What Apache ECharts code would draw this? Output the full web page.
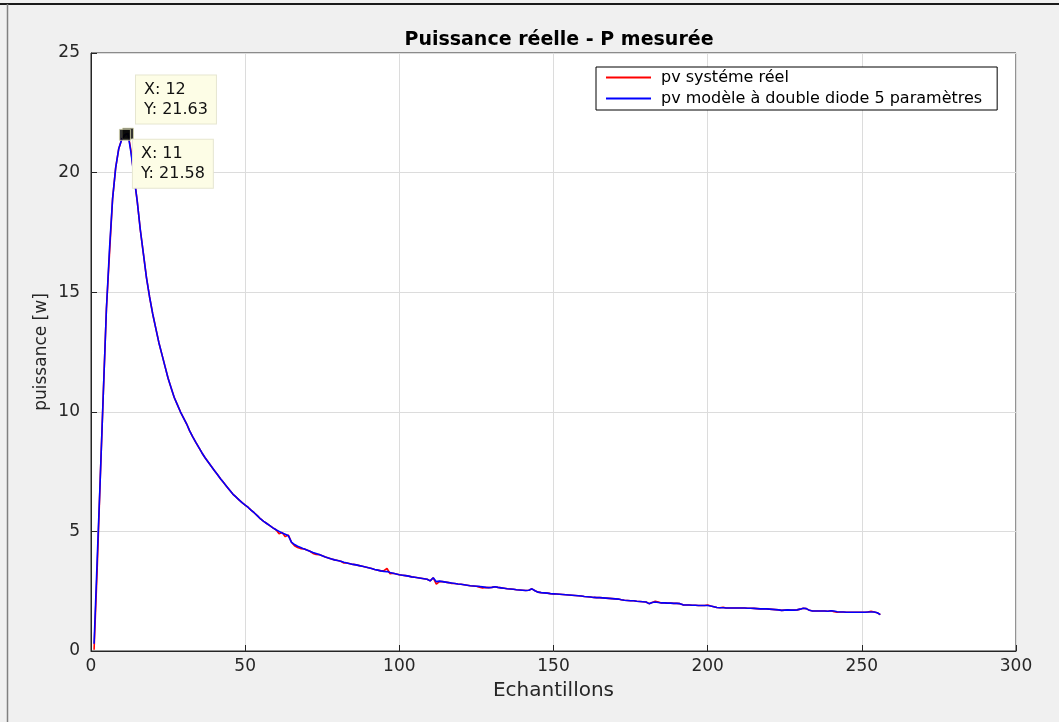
<!DOCTYPE html>
<html>
<head>
<meta charset="utf-8">
<script src="https://cdn.jsdelivr.net/npm/echarts@6/dist/echarts.min.js"></script>
<style>
  html, body { margin: 0; padding: 0; background: #f0f0f0; }
  #chart { width: 1059px; height: 722px; }
</style>
</head>
<body>
<div id="chart"></div>
<script>
// Measured power of the PV system vs. the 5-parameter double-diode model, per sample
const modelPower = [
  0.3, 3.8, 7.2, 10.8, 14.3, 16.8, 18.9, 20.2, 21.0, 21.4,
  21.58, 21.63, 20.8, 19.8, 18.8, 17.6, 16.6, 15.6, 14.8, 14.1,
  13.5, 12.9, 12.4, 11.9, 11.4, 11.0, 10.6, 10.3, 10.0, 9.75,
  9.5, 9.2, 8.95, 8.72, 8.5, 8.28, 8.08, 7.9, 7.72, 7.55,
  7.38, 7.2, 7.04, 6.88, 6.72, 6.56, 6.44, 6.32, 6.2, 6.1,
  6.0, 5.88, 5.77, 5.65, 5.52, 5.42, 5.33, 5.24, 5.15, 5.07,
  5.0, 4.93, 4.88, 4.82, 4.55, 4.45, 4.38, 4.33, 4.27, 4.22,
  4.17, 4.12, 4.08, 4.03, 3.98, 3.93, 3.89, 3.85, 3.81, 3.78,
  3.75, 3.71, 3.68, 3.65, 3.62, 3.6, 3.57, 3.54, 3.51, 3.48,
  3.45, 3.41, 3.38, 3.35, 3.33, 3.32, 3.28, 3.25, 3.22, 3.19,
  3.17, 3.15, 3.13, 3.1, 3.08, 3.06, 3.04, 3.02, 3.0, 2.93,
  3.06, 2.9, 2.92, 2.9, 2.88, 2.86, 2.84, 2.82, 2.8, 2.79,
  2.77, 2.75, 2.73, 2.72, 2.71, 2.7, 2.68, 2.66, 2.65, 2.66,
  2.69, 2.66, 2.64, 2.62, 2.6, 2.59, 2.58, 2.56, 2.55, 2.54,
  2.53, 2.54, 2.6, 2.52, 2.46, 2.44, 2.43, 2.42, 2.4, 2.39,
  2.38, 2.37, 2.36, 2.35, 2.34, 2.33, 2.32, 2.31, 2.3, 2.28,
  2.27, 2.26, 2.24, 2.23, 2.23, 2.22, 2.21, 2.2, 2.19, 2.18,
  2.17, 2.14, 2.12, 2.11, 2.1, 2.1, 2.08, 2.07, 2.06, 2.05,
  1.98, 2.03, 2.05, 2.03, 2.01, 2.01, 2.0, 2.0, 1.99, 1.99,
  1.98, 1.93, 1.92, 1.92, 1.91, 1.91, 1.9, 1.9, 1.9, 1.9,
  1.88, 1.85, 1.82, 1.81, 1.81, 1.8, 1.8, 1.8, 1.8, 1.8,
  1.8, 1.8, 1.79, 1.79, 1.78, 1.77, 1.76, 1.76, 1.76, 1.75,
  1.74, 1.73, 1.72, 1.7, 1.71, 1.72, 1.71, 1.71, 1.72, 1.75,
  1.79, 1.77, 1.7, 1.67, 1.67, 1.67, 1.67, 1.67, 1.66, 1.68,
  1.67, 1.64, 1.63, 1.63, 1.62, 1.62, 1.62, 1.62, 1.62, 1.62,
  1.62, 1.63, 1.63, 1.63, 1.6, 1.52
];

const realPower = [
  0.05, 3.4, 7.2, 10.8, 14.3, 16.6, 18.9, 20.2, 21.0, 21.4,
  21.58, 21.63, 20.9, 19.8, 18.8, 17.6, 16.6, 15.6, 14.8, 14.1,
  13.5, 12.9, 12.4, 11.9, 11.4, 11.0, 10.6, 10.3, 10.0, 9.75,
  9.5, 9.2, 8.95, 8.72, 8.5, 8.28, 8.08, 7.9, 7.72, 7.55,
  7.38, 7.2, 7.04, 6.88, 6.72, 6.56, 6.44, 6.32, 6.2, 6.1,
  6.0, 5.88, 5.77, 5.65, 5.52, 5.42, 5.33, 5.24, 5.15, 5.07,
  4.9, 4.95, 4.78, 4.85, 4.55, 4.4, 4.33, 4.28, 4.27, 4.22,
  4.17, 4.08, 4.04, 4.03, 3.98, 3.93, 3.89, 3.85, 3.81, 3.78,
  3.75, 3.68, 3.68, 3.65, 3.62, 3.6, 3.57, 3.54, 3.51, 3.48,
  3.45, 3.41, 3.38, 3.35, 3.36, 3.45, 3.23, 3.25, 3.22, 3.19,
  3.17, 3.15, 3.13, 3.1, 3.08, 3.06, 3.04, 3.02, 3.0, 2.93,
  3.06, 2.8, 2.9, 2.9, 2.88, 2.86, 2.82, 2.82, 2.8, 2.79,
  2.77, 2.75, 2.73, 2.72, 2.71, 2.67, 2.64, 2.66, 2.65, 2.66,
  2.69, 2.66, 2.64, 2.62, 2.6, 2.59, 2.58, 2.56, 2.55, 2.54,
  2.53, 2.54, 2.6, 2.52, 2.46, 2.44, 2.43, 2.42, 2.4, 2.39,
  2.38, 2.37, 2.36, 2.35, 2.34, 2.33, 2.32, 2.31, 2.3, 2.28,
  2.27, 2.26, 2.24, 2.23, 2.23, 2.22, 2.21, 2.2, 2.19, 2.18,
  2.17, 2.14, 2.12, 2.11, 2.1, 2.1, 2.08, 2.07, 2.06, 2.05,
  1.98, 2.03, 2.08, 2.05, 2.01, 2.01, 2.0, 2.0, 1.99, 1.99,
  1.98, 1.93, 1.92, 1.92, 1.91, 1.91, 1.9, 1.9, 1.9, 1.92,
  1.88, 1.85, 1.82, 1.81, 1.83, 1.8, 1.8, 1.8, 1.8, 1.8,
  1.8, 1.8, 1.79, 1.79, 1.78, 1.77, 1.76, 1.76, 1.76, 1.75,
  1.74, 1.73, 1.72, 1.7, 1.71, 1.72, 1.71, 1.71, 1.72, 1.75,
  1.79, 1.77, 1.7, 1.67, 1.67, 1.67, 1.67, 1.67, 1.66, 1.68,
  1.64, 1.62, 1.63, 1.63, 1.62, 1.62, 1.62, 1.62, 1.62, 1.62,
  1.62, 1.63, 1.66, 1.63, 1.6, 1.52
];

// Highlighted samples (data tips): [sample, power]
const dataTips = [[12, 21.63], [11, 21.58]];

const chartTitle = 'Puissance réelle - P mesurée';
const xName = 'Echantillons';
const yName = 'puissance [w]';
const realName = 'pv systéme réel';
const modelName = 'pv modèle à double diode 5 paramètres';

const toPairs = arr => arr.map((v, i) => [i + 1, v]);

const FONT = '"DejaVu Sans", Verdana, sans-serif';
const AXIS_COLOR = '#262626';

const chart = echarts.init(document.getElementById('chart'), null, { renderer: 'canvas' });

chart.setOption({
  backgroundColor: '#f0f0f0',
  animation: false,
  title: {
    text: chartTitle,
    left: 554,
    textAlign: 'center',
    top: 26,
    textStyle: { fontFamily: FONT, fontSize: 19, fontWeight: 'bold', color: '#000' }
  },
  legend: {
    orient: 'vertical',
    left: 596,
    top: 67,
    padding: [2, 15, 3, 10],
    itemGap: 4,
    itemWidth: 45,
    itemHeight: 2,
    backgroundColor: '#fff',
    borderColor: '#000',
    borderWidth: 1,
    borderRadius: 0,
    data: [
      { name: realName, icon: 'rect' },
      { name: modelName, icon: 'rect' }
    ],
    textStyle: { fontFamily: FONT, fontSize: 16, lineHeight: 17, color: '#000', padding: [0, 0, 0, 5] }
  },
  grid: {
    left: 91, top: 53, width: 925, height: 598,
    show: true, backgroundColor: '#fff', borderColor: AXIS_COLOR, borderWidth: 1,
    containLabel: false
  },
  xAxis: {
    type: 'value',
    min: 0, max: 300, interval: 50,
    name: xName,
    nameLocation: 'middle',
    nameGap: 30,
    nameMoveOverlap: false,
    nameTextStyle: { fontFamily: FONT, fontSize: 20, color: AXIS_COLOR },
    axisLine: { show: true, lineStyle: { color: AXIS_COLOR, width: 1 } },
    axisTick: { show: true, inside: true, length: 6, lineStyle: { color: AXIS_COLOR } },
    axisLabel: { fontFamily: FONT, fontSize: 17, color: AXIS_COLOR, margin: 7 },
    splitLine: { show: true, lineStyle: { color: '#dcdcdc', width: 1 } }
  },
  yAxis: {
    type: 'value',
    min: 0, max: 25, interval: 5,
    name: yName,
    nameLocation: 'middle',
    nameGap: 41,
    nameMoveOverlap: false,
    nameRotate: 90,
    nameTextStyle: { fontFamily: FONT, fontSize: 17, color: AXIS_COLOR },
    axisLine: { show: true, lineStyle: { color: AXIS_COLOR, width: 1 } },
    axisTick: { show: true, inside: true, length: 6, lineStyle: { color: AXIS_COLOR } },
    axisLabel: { fontFamily: FONT, fontSize: 17, color: AXIS_COLOR, margin: 11 },
    splitLine: { show: true, lineStyle: { color: '#dcdcdc', width: 1 } }
  },
  series: [
    {
      name: realName,
      type: 'line',
      data: toPairs(realPower),
      showSymbol: false,
      color: '#ff0000',
      lineStyle: { color: '#ff0000', width: 1.6 },
      z: 2
    },
    {
      name: modelName,
      type: 'line',
      data: toPairs(modelPower),
      showSymbol: false,
      color: '#0000ff',
      lineStyle: { color: '#0000ff', width: 1.6 },
      z: 3
    },
    {
      name: 'datatips',
      type: 'scatter',
      data: [
        { value: dataTips[0], label: { position: [14, -52] } },
        { value: dataTips[1], label: { position: [14, 11] } }
      ],
      symbol: 'rect',
      symbolSize: 11,
      itemStyle: { color: '#000', borderColor: '#d8d8b0', borderWidth: 1 },
      z: 5,
      label: {
        show: true,
        formatter: p => 'X: ' + p.value[0] + '\nY: ' + p.value[1].toFixed(2),
        fontFamily: FONT,
        fontSize: 16,
        lineHeight: 20,
        color: '#111',
        opacity: 1,
        backgroundColor: '#fdfde6',
        borderColor: '#e6e6d0',
        borderWidth: 1,
        padding: [4, 8, 4, 8],
        align: 'left',
        verticalAlign: 'top'
      },
      emphasis: { disabled: true }
    }
  ],
  graphic: [
    { type: 'line', shape: { x1: 0, y1: 4, x2: 1059, y2: 4 }, style: { stroke: '#1a1a1a', lineWidth: 2 }, silent: true },
    { type: 'line', shape: { x1: 7.5, y1: 4, x2: 7.5, y2: 722 }, style: { stroke: '#808080', lineWidth: 1.5 }, silent: true }
  ]
});
</script>
</body>
</html>
